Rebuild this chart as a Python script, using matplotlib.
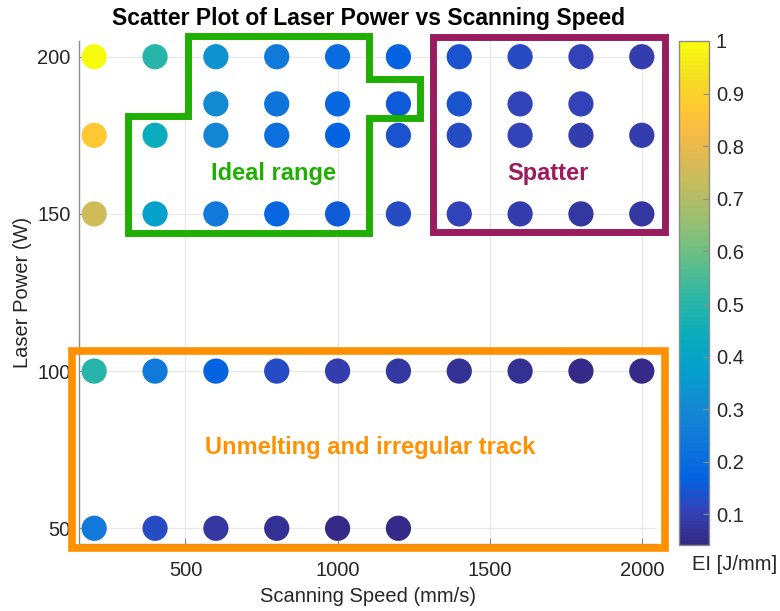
import matplotlib
matplotlib.use("Agg")
import matplotlib.pyplot as plt
from matplotlib.colors import LinearSegmentedColormap
from matplotlib.patches import Rectangle, Polygon

plt.rcParams['font.family'] = ['Liberation Sans', 'DejaVu Sans']

# ---------------- data ----------------
speeds_full = [200, 400, 600, 800, 1000, 1200, 1400, 1600, 1800, 2000]
speeds_185 = [600, 800, 1000, 1200, 1400, 1600, 1800]
speeds_50 = [200, 400, 600, 800, 1000, 1200]

power_rows = [200, 185, 175, 150, 100, 50]
speed_rows = [speeds_full, speeds_185, speeds_full, speeds_full, speeds_full, speeds_50]

ei_200 = [1.0, 0.5, 0.333, 0.25, 0.2, 0.167, 0.143, 0.125, 0.111, 0.1]
ei_185 = [0.308, 0.231, 0.185, 0.154, 0.132, 0.116, 0.103]
ei_175 = [0.875, 0.438, 0.292, 0.219, 0.175, 0.146, 0.125, 0.109, 0.097, 0.088]
ei_150 = [0.75, 0.375, 0.25, 0.188, 0.15, 0.125, 0.107, 0.094, 0.083, 0.075]
ei_100 = [0.5, 0.25, 0.167, 0.125, 0.1, 0.083, 0.071, 0.063, 0.056, 0.05]
ei_50 = [0.25, 0.125, 0.083, 0.063, 0.05, 0.042]
ei_rows = [ei_200, ei_185, ei_175, ei_150, ei_100, ei_50]

xticks = [500, 1000, 1500, 2000]
yticks = [50, 100, 150, 200]
cbar_ticks = [0.1, 0.2, 0.3, 0.4, 0.5, 0.6, 0.7, 0.8, 0.9, 1.0]
cbar_ticklabels = ['0.1', '0.2', '0.3', '0.4', '0.5', '0.6', '0.7', '0.8', '0.9', '1']

# parula-like colormap (style): (index out of 63, rgb)
parula_pts = [
    (0, (0.2081, 0.1663, 0.5292)), (4, (0.1959, 0.2645, 0.7279)),
    (8, (0.0117, 0.3875, 0.8820)), (13, (0.0629, 0.4737, 0.8554)),
    (17, (0.0749, 0.5375, 0.8263)), (22, (0.0239, 0.6287, 0.8038)),
    (26, (0.0384, 0.6743, 0.7436)), (31, (0.1801, 0.7177, 0.6424)),
    (36, (0.3952, 0.7459, 0.5244)), (40, (0.5708, 0.7485, 0.4494)),
    (44, (0.7184, 0.7411, 0.3905)), (48, (0.8507, 0.7299, 0.3360)),
    (52, (0.9739, 0.7314, 0.2666)), (55, (0.9955, 0.7861, 0.1967)),
    (58, (0.9697, 0.8481, 0.1475)), (61, (0.9598, 0.9218, 0.0948)),
    (63, (0.9763, 0.9831, 0.0538))]
parula = LinearSegmentedColormap.from_list(
    'parula', [(i / 63.0, c) for i, c in parula_pts], N=64)

xs, ys, cs = [], [], []
for p, sp, ei in zip(power_rows, speed_rows, ei_rows):
    xs += sp
    ys += [p] * len(sp)
    cs += ei

# ---------------- figure ----------------
fig = plt.figure(figsize=(7.8, 6.11), dpi=100)
ax = fig.add_axes([79/780, 67/611, 578/780, 503/611])
cax = fig.add_axes([679/780, 66/611, 30/780, 504/611])

vmin = min(cs)
sc = ax.scatter(xs, ys, c=cs, cmap=parula, vmin=vmin, vmax=1.0, s=330,
                edgecolors='none', zorder=3)

ax.set_xlim(150, 2050)
ax.set_ylim(45, 205)
ax.set_xticks(xticks)
ax.set_yticks(yticks)
ax.grid(True, color='#e8e8e8', linewidth=0.9, zorder=0)
ax.set_axisbelow(True)
for s in ['top', 'right']:
    ax.spines[s].set_visible(False)
for s in ['left', 'bottom']:
    ax.spines[s].set_color('#8c8c8c')
    ax.spines[s].set_linewidth(1.0)
ax.tick_params(direction='in', length=4, color='#8c8c8c', labelsize=14.5,
               labelcolor='#262626')
ax.tick_params(axis='x', pad=12)
ax.tick_params(axis='y', pad=6)

ax.set_xlabel('Scanning Speed (mm/s)', fontsize=14.5, color='#262626', labelpad=5)
ax.set_ylabel('Laser Power (W)', fontsize=14.5, color='#262626', labelpad=4)

fig.text(368/780, 1 - 18/611, 'Scatter Plot of Laser Power vs Scanning Speed',
         ha='center', va='center', fontsize=16.5, fontweight='bold', color='black')

# colorbar
cb = fig.colorbar(sc, cax=cax)
cb.set_ticks(cbar_ticks)
cb.set_ticklabels(cbar_ticklabels)
cax.tick_params(direction='in', length=4, color='#8c8c8c', labelsize=14.5,
                labelcolor='#262626', pad=5)
cb.outline.set_edgecolor('#8c8c8c')
cb.outline.set_linewidth(1.0)
fig.text(735/780, 1 - 565/611, 'EI [J/mm]', ha='center', va='center',
         fontsize=14.5, color='#262626')

# region annotations
green = '#1FAF00'
purple = '#9B1B5F'
orange = '#FF9100'
ideal = Polygon([(311, 181.1), (508, 181.1), (508, 206.6), (1103, 206.6),
                 (1103, 192.9), (1271, 192.9), (1271, 180.5), (1103, 180.5),
                 (1103, 143.9), (311, 143.9)], closed=True, fill=False,
                edgecolor=green, linewidth=5, joinstyle='miter',
                clip_on=False, zorder=5)
ax.add_patch(ideal)
spatter = Rectangle((1314, 144.2), 2076 - 1314, 206.3 - 144.2, fill=False,
                    edgecolor=purple, linewidth=5, joinstyle='miter',
                    clip_on=False, zorder=5)
ax.add_patch(spatter)
unmelt = Rectangle((127, 43.8), 2076 - 127, 106.4 - 43.8, fill=False,
                   edgecolor=orange, linewidth=5.5, joinstyle='miter',
                   clip_on=False, zorder=5)
ax.add_patch(unmelt)

ax.text(791, 163, 'Ideal range', color=green, fontsize=17, fontweight='bold',
        ha='center', va='center', zorder=6)
ax.text(1692, 163, 'Spatter', color=purple, fontsize=17, fontweight='bold',
        ha='center', va='center', zorder=6)
ax.text(1106, 75.8, 'Unmelting and irregular track', color=orange, fontsize=17,
        fontweight='bold', ha='center', va='center', zorder=6)

fig.savefig('out.png', dpi=100)
